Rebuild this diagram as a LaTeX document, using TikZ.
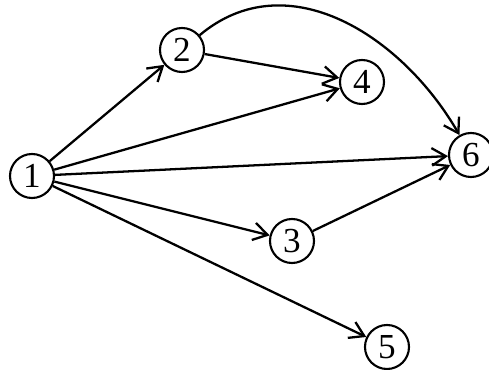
\documentclass[tikz,border=0pt]{standalone}
\usepackage{fontspec}
\setmainfont{Liberation Serif}
\usetikzlibrary{arrows.meta}

\begin{document}
\begin{tikzpicture}[
    vertex/.style={draw, circle, line width=1.2pt, minimum size=0.88cm,
                   inner sep=0pt, font=\fontsize{20}{22}\selectfont},
    edge/.style={-{Straight Barb[length=8pt, width=10pt]}, line width=1.3pt}]
  \useasboundingbox (0,0) rectangle (9.78,-7.40);
  % Vertices
  \foreach \n/\x/\y in {1/0.64/-3.52, 2/3.64/-1.00, 4/7.24/-1.64,
                        6/9.42/-3.10, 3/5.84/-4.82, 5/7.74/-6.94} {
    \node[vertex] (v\n) at (\x,\y) {\n};
  }
  % Straight arcs
  \foreach \a/\b in {1/2, 1/4, 1/6, 1/3, 1/5, 2/4, 3/6} {
    \draw[edge] (v\a) -- (v\b);
  }
  % Curved arc over the top
  \draw[edge] (v2) to[out=40, in=120, looseness=1.05] (v6);
\end{tikzpicture}
\end{document}
